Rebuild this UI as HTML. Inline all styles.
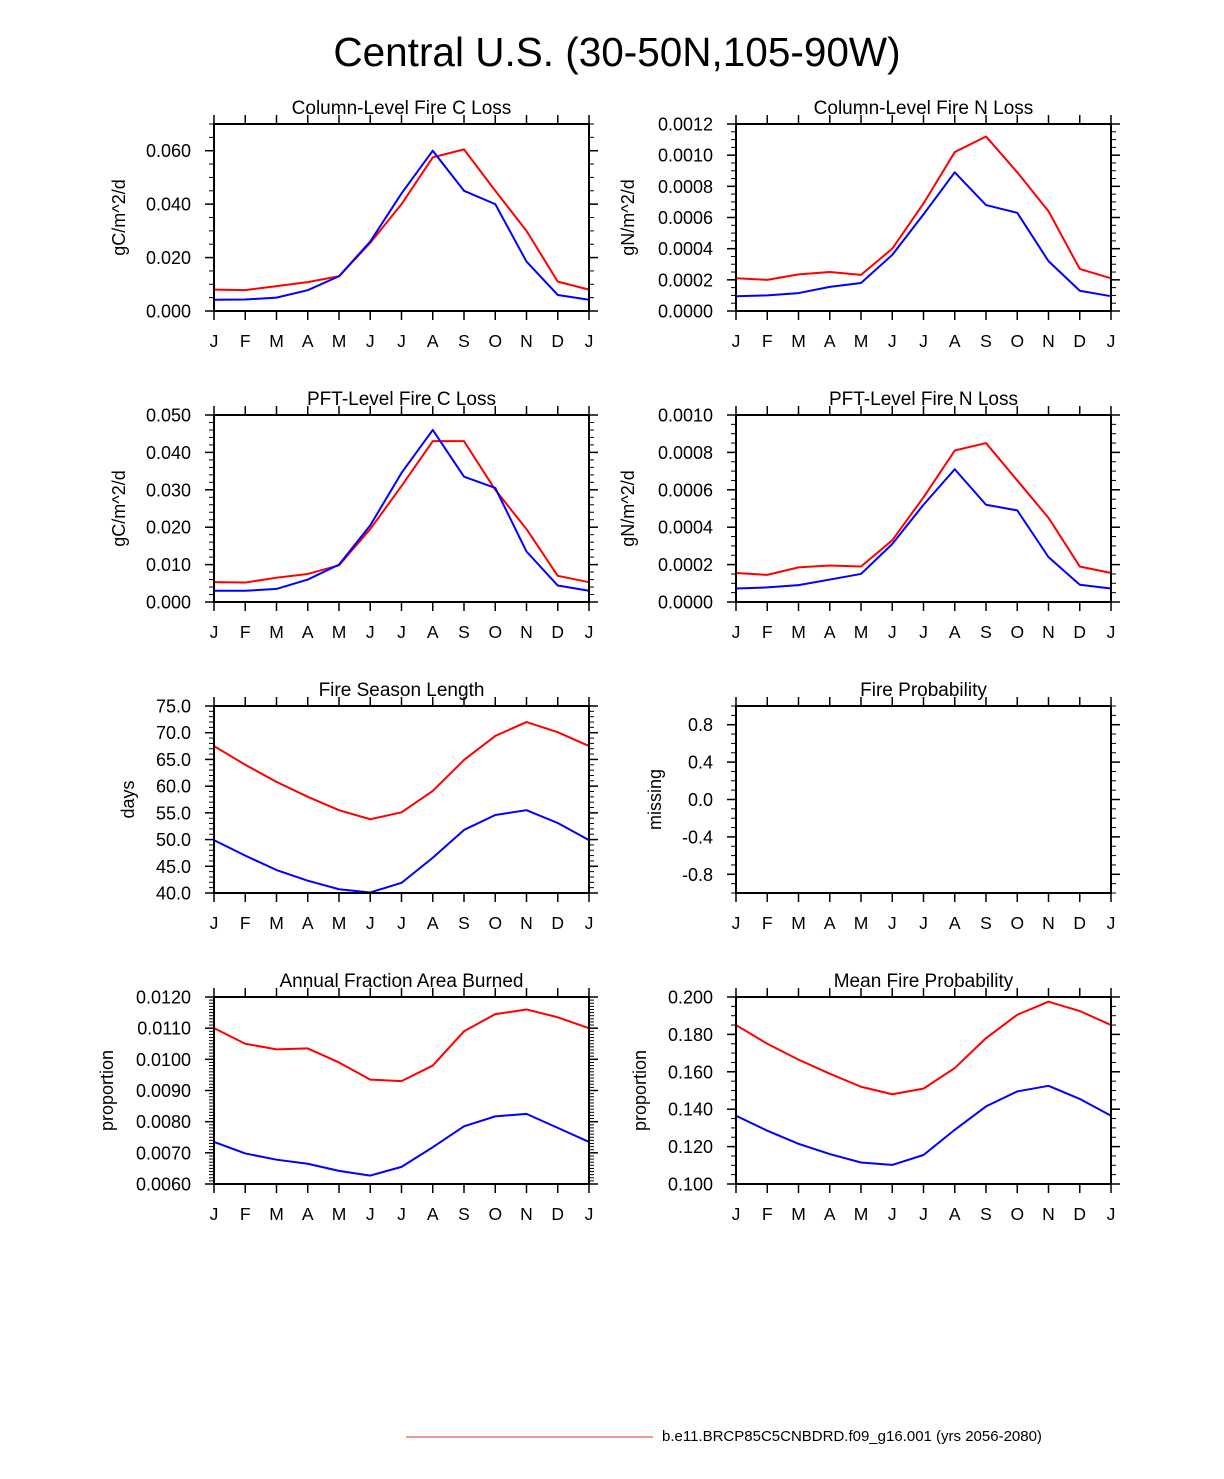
<!DOCTYPE html>
<html><head><meta charset="utf-8"><style>
body{margin:0;background:#fff;}
svg text{font-family:"Liberation Sans",Arial,sans-serif;fill:#000;}
</style></head><body>
<svg id="chart" width="1224" height="1474" viewBox="0 0 1224 1474" xmlns="http://www.w3.org/2000/svg">
<text x="617" y="66" font-size="40.5" text-anchor="middle">Central U.S. (30-50N,105-90W)</text>
<line x1="406" y1="1437" x2="653" y2="1437" stroke="#e03030" stroke-width="1"/>
<text x="662" y="1441" font-size="15">b.e11.BRCP85C5CNBDRD.f09_g16.001 (yrs 2056-2080)</text>
</svg>
<script>
const months = ["J","F","M","A","M","J","J","A","S","O","N","D","J"];
const colCLossRed = [0.008,0.0078,0.0093,0.0108,0.013,0.0255,0.040,0.0575,0.0605,0.045,0.030,0.011,0.008];
const colCLossBlue = [0.0042,0.0043,0.005,0.0078,0.013,0.026,0.044,0.060,0.045,0.040,0.0185,0.006,0.0042];
const colNLossRed = [0.00021,0.0002,0.000235,0.00025,0.000232,0.0004,0.00069,0.00102,0.00112,0.00089,0.00064,0.00027,0.00021];
const colNLossBlue = [0.000095,0.0001,0.000115,0.000155,0.00018,0.00036,0.00062,0.00089,0.00068,0.00063,0.00032,0.00013,0.000095];
const pftCLossRed = [0.0053,0.0052,0.0065,0.0075,0.0098,0.0195,0.031,0.043,0.043,0.030,0.0195,0.007,0.0053];
const pftCLossBlue = [0.003,0.003,0.0035,0.006,0.010,0.0205,0.0345,0.046,0.0335,0.0305,0.0135,0.0044,0.003];
const pftNLossRed = [0.000155,0.000145,0.000185,0.000195,0.00019,0.00033,0.00056,0.00081,0.00085,0.00065,0.00045,0.00019,0.000155];
const pftNLossBlue = [0.000072,0.000078,0.00009,0.00012,0.00015,0.00031,0.00052,0.00071,0.00052,0.00049,0.00024,0.000092,0.000072];
const seasonRed = [67.5,64,60.8,58,55.5,53.8,55.1,59.1,64.9,69.4,72,70.1,67.5];
const seasonBlue = [49.9,47,44.3,42.3,40.7,40.1,41.9,46.6,51.8,54.6,55.5,53.1,49.9];
const fracRed = [0.0110,0.0105,0.01032,0.01035,0.0099,0.00935,0.0093,0.0098,0.0109,0.01145,0.0116,0.01135,0.0110];
const fracBlue = [0.00735,0.00698,0.00678,0.00665,0.00642,0.00627,0.00655,0.00718,0.00785,0.00817,0.00825,0.0078,0.00735];
const meanProbRed = [0.185,0.175,0.1665,0.159,0.152,0.148,0.151,0.162,0.178,0.1905,0.1975,0.1925,0.185];
const meanProbBlue = [0.1365,0.1285,0.1215,0.116,0.1115,0.1102,0.1155,0.129,0.1415,0.1495,0.1525,0.1455,0.1365];

const NS="http://www.w3.org/2000/svg";
const svg=document.getElementById('chart');
function mk(tag,attrs,parent){const e=document.createElementNS(NS,tag);for(const k in attrs)e.setAttribute(k,attrs[k]);(parent||svg).appendChild(e);return e;}

const panels=[
 {id:'col-c-loss',title:'Column-Level Fire C Loss',ytitle:'gC/m^2/d',x:214,y:124,min:0,max:0.07,major:0.02,minor:0.005,dec:3,red:colCLossRed,blue:colCLossBlue,tx:125},
 {id:'col-n-loss',title:'Column-Level Fire N Loss',ytitle:'gN/m^2/d',x:736,y:124,min:0,max:0.0012,major:0.0002,minor:0.00005,dec:4,red:colNLossRed,blue:colNLossBlue,tx:634},
 {id:'pft-c-loss',title:'PFT-Level Fire C Loss',ytitle:'gC/m^2/d',x:214,y:415,min:0,max:0.05,major:0.01,minor:0.002,dec:3,red:pftCLossRed,blue:pftCLossBlue,tx:125},
 {id:'pft-n-loss',title:'PFT-Level Fire N Loss',ytitle:'gN/m^2/d',x:736,y:415,min:0,max:0.001,major:0.0002,minor:0.00005,dec:4,red:pftNLossRed,blue:pftNLossBlue,tx:634},
 {id:'season-length',title:'Fire Season Length',ytitle:'days',x:214,y:706,min:40,max:75,major:5,minor:1,dec:1,red:seasonRed,blue:seasonBlue,tx:134},
 {id:'fire-prob',title:'Fire Probability',ytitle:'missing',x:736,y:706,min:-1,max:1,major:0.4,minor:0.1,dec:1,red:null,blue:null,tx:661,start:-0.8},
 {id:'frac-burned',title:'Annual Fraction Area Burned',ytitle:'proportion',x:214,y:997,min:0.006,max:0.012,major:0.001,minor:0.0001,dec:4,red:fracRed,blue:fracBlue,tx:113},
 {id:'mean-prob',title:'Mean Fire Probability',ytitle:'proportion',x:736,y:997,min:0.1,max:0.2,major:0.02,minor:0.005,dec:3,red:meanProbRed,blue:meanProbBlue,tx:646}
];
const W=375,H=187,ML=9,MN=5;
panels.forEach(p=>{
  const g=mk('g',{});
  
  
  const sx=i=>p.x+i*W/12;
  const sy=v=>p.y+H-(v-p.min)/(p.max-p.min)*H;
  const nMin=Math.round((p.max-p.min)/p.minor);
  for(let k=0;k<=nMin;k++){const v=p.min+k*p.minor;const y=sy(v);
    mk('line',{x1:p.x-MN,y1:y,x2:p.x,y2:y,stroke:'#000','stroke-width':1},g);
    mk('line',{x1:p.x+W,y1:y,x2:p.x+W+MN,y2:y,stroke:'#000','stroke-width':1},g);}
  let start=p.start!==undefined?p.start:p.min;
  for(let v=start;v<=p.max+1e-12;v+=p.major){const y=sy(v);
    mk('line',{x1:p.x-ML,y1:y,x2:p.x,y2:y,stroke:'#000','stroke-width':1.5},g);
    mk('line',{x1:p.x+W,y1:y,x2:p.x+W+ML,y2:y,stroke:'#000','stroke-width':1.5},g);
    let s=(Math.abs(v)<1e-12?0:v).toFixed(p.dec);
    const t=mk('text',{x:p.x-23,y:y+6.5,'font-size':18,'text-anchor':'end'},g);
    
    
    t.textContent=s;}
  months.forEach((m,i)=>{const x=sx(i);
    mk('line',{x1:x,y1:p.y+H,x2:x,y2:p.y+H+ML,stroke:'#000','stroke-width':1.5},g);
    mk('line',{x1:x,y1:p.y-ML,x2:x,y2:p.y,stroke:'#000','stroke-width':1.5},g);
    const t=mk('text',{x:x,y:p.y+H+36,'font-size':17.5,'text-anchor':'middle'},g);
    
    
    t.textContent=m;});
  [['red',p.red,'#ff0000'],['blue',p.blue,'#0000ff']].forEach(([n,arr,c])=>{
    if(!arr)return;
    const pl=mk('polyline',{points:arr.map((v,i)=>sx(i)+','+sy(v)).join(' '),fill:'none',stroke:c,'stroke-width':2,'stroke-linejoin':'round'},g);
    
    });
  const fr=mk('rect',{x:p.x,y:p.y,width:W,height:H,fill:'none',stroke:'#000','stroke-width':2},g);
  
  
  const tt=mk('text',{x:p.x+W/2,y:p.y-10,'font-size':19,'text-anchor':'middle'},g);
  
  
  tt.textContent=p.title;
  const yt=mk('text',{x:0,y:0,'font-size':18,'text-anchor':'middle',transform:`translate(${p.tx},${p.y+H/2}) rotate(-90)`},g);
  
  
  yt.textContent=p.ytitle;
});
</script>
</body></html>
